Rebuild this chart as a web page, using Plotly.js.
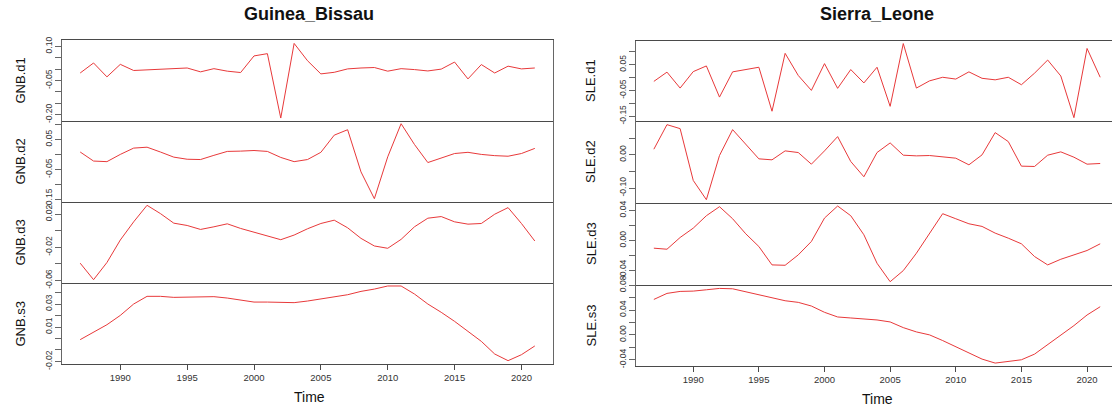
<!DOCTYPE html>
<html>
<head>
<meta charset="utf-8">
<script src="https://cdn.plot.ly/plotly-3.0.1.min.js"></script>
<style>
  html, body { margin: 0; padding: 0; background: #fff; }
  #chart { width: 1112px; height: 408px; }
</style>
</head>
<body>
<div id="chart"></div>
<script>
// ---------------- data ----------------
const years = [1987,1988,1989,1990,1991,1992,1993,1994,1995,1996,1997,1998,1999,2000,2001,2002,2003,2004,2005,2006,2007,2008,2009,2010,2011,2012,2013,2014,2015,2016,2017,2018,2019,2020,2021];

const gnbD1 = [-0.017,0.027,-0.034,0.021,-0.006,-0.003,0.002,0.002,0.005,-0.012,0.002,-0.009,-0.015,0.058,0.068,-0.215,0.113,0.037,-0.021,-0.014,0.001,0.005,0.007,-0.009,0.002,-0.002,-0.008,0.000,0.031,-0.043,0.020,-0.017,0.013,0.001,0.005];
const gnbD2 = [0.008,-0.022,-0.024,0.000,0.021,0.024,0.008,-0.009,-0.016,-0.017,-0.003,0.010,0.011,0.013,0.010,-0.010,-0.024,-0.017,0.007,0.064,0.082,-0.058,-0.147,-0.008,0.102,0.033,-0.027,-0.011,0.003,0.007,0.000,-0.004,-0.006,0.003,0.020];
const gnbD3 = [-0.0392,-0.0592,-0.0384,-0.0112,0.0108,0.0308,0.0208,0.0092,0.0064,0.0016,0.0048,0.0084,0.0028,-0.0016,-0.0064,-0.0108,-0.0052,0.0024,0.0088,0.0128,0.0036,-0.0092,-0.0184,-0.0212,-0.0104,0.0048,0.0152,0.0172,0.0108,0.0080,0.0088,0.0200,0.0280,0.0088,-0.0124];
const gnbS3 = [-0.0010,0.0057,0.0120,0.0201,0.0300,0.0367,0.0367,0.0358,0.0361,0.0361,0.0364,0.0352,0.0335,0.0317,0.0317,0.0317,0.0312,0.0326,0.0343,0.0358,0.0381,0.0410,0.0430,0.0457,0.0457,0.0387,0.0300,0.0228,0.0149,0.0062,-0.0025,-0.0135,-0.0193,-0.0141,-0.0065];

const sleD1 = [-0.015,0.021,-0.041,0.023,0.045,-0.076,0.022,0.032,0.040,-0.131,0.094,0.008,-0.050,0.054,-0.042,0.031,-0.021,0.040,-0.112,0.132,-0.041,-0.013,0.001,-0.006,0.022,-0.003,-0.009,0.001,-0.028,0.017,0.068,0.006,-0.156,0.113,0.001];
const sleD2 = [0.017,0.091,0.079,-0.077,-0.135,-0.002,0.076,0.032,-0.012,-0.015,0.012,0.007,-0.028,0.012,0.055,-0.020,-0.066,0.007,0.036,-0.001,-0.003,-0.002,-0.007,-0.010,-0.030,0.000,0.067,0.040,-0.034,-0.035,-0.001,0.009,-0.007,-0.028,-0.026];
const sleD3 = [-0.0102,-0.0116,0.0040,0.0164,0.0329,0.0449,0.0289,0.0089,-0.0080,-0.0324,-0.0329,-0.0191,-0.0013,0.0298,0.0458,0.0329,0.0076,-0.0302,-0.0547,-0.0400,-0.0169,0.0098,0.0356,0.0289,0.0222,0.0187,0.0098,0.0031,-0.0044,-0.0213,-0.0324,-0.0249,-0.0191,-0.0133,-0.0044];
const sleS3 = [0.0570,0.0667,0.0699,0.0704,0.0725,0.0747,0.0741,0.0693,0.0640,0.0587,0.0549,0.0523,0.0464,0.0363,0.0288,0.0272,0.0256,0.0240,0.0208,0.0117,0.0048,0.0000,-0.0091,-0.0192,-0.0293,-0.0389,-0.0453,-0.0432,-0.0400,-0.0309,-0.0160,-0.0011,0.0149,0.0320,0.0453];

const panelTitles = ["Guinea_Bissau", "Sierra_Leone"];
const seriesNames = ["GNB.d1","GNB.d2","GNB.d3","GNB.s3","SLE.d1","SLE.d2","SLE.d3","SLE.s3"];
const xTickVals = [1990,1995,2000,2005,2010,2015,2020];
const xTickText = ["1990","1995","2000","2005","2010","2015","2020"];
const xTitle = "Time";

// y tick values and their (partly skipped) labels
const yTickVals = [
  [0.10,0.05,0.00,-0.05,-0.10,-0.15,-0.20],
  [0.10,0.05,0.00,-0.05,-0.10,-0.15],
  [0.02,0.00,-0.02,-0.04,-0.06],
  [0.04,0.03,0.02,0.01,0.00,-0.01,-0.02],
  [0.10,0.05,0.00,-0.05,-0.10,-0.15],
  [0.05,0.00,-0.05,-0.10],
  [0.04,0.02,0.00,-0.02,-0.04],
  [0.08,0.06,0.04,0.02,0.00,-0.02,-0.04]
];
const yTickText = [
  ["0.10","","","-0.05","","","-0.20"],
  ["","0.05","","-0.05","","-0.15"],
  ["0.02","","-0.02","","-0.06"],
  ["","0.03","","0.01","","","-0.02"],
  ["","0.05","","-0.05","","-0.15"],
  ["","0.00","","-0.10"],
  ["0.04","","0.00","","-0.04"],
  ["0.08","","0.04","","0.00","","-0.04"]
];

const series = [gnbD1, gnbD2, gnbD3, gnbS3, sleD1, sleD2, sleD3, sleS3];

// ---------------- layout ----------------
const W = 1112, H = 408;
const FONT = "Liberation Sans, Arial, Helvetica, sans-serif";
const LINE = "#e8393a";
const AXC = "#4a4a4a";

// pixel geometry of the panel boxes (left, right stacks)
const leftX = [62, 553];
const rightX = [636, 1112];
const leftRows = [[40,121],[121,202],[202,283],[283,364]];
const rightRows = [[41,121],[121,203],[203,285],[285,366]];
const yRanges = [
  [-0.228, 0.128], [-0.158, 0.111], [-0.0632, 0.0348], [-0.0222, 0.0483],
  [-0.169, 0.142], [-0.145, 0.102], [-0.0591, 0.0498], [-0.0500, 0.0802]
];
const xRangeLeft = [1985.64, 2022.36];
const xRangeRight = [1985.64, 2021.90];

function vdom(r) { return [1 - r[1]/H, 1 - r[0]/H]; }
function hdom(r) { return [r[0]/W, Math.min(1, r[1]/W)]; }

const traces = [];
const layout = {
  width: W, height: H, autosize: false,
  margin: {l:0, r:0, t:0, b:0, pad:0},
  paper_bgcolor: "#ffffff", plot_bgcolor: "#ffffff",
  showlegend: false,
  font: {family: FONT, color: "#222"},
  annotations: []
};

for (let i = 0; i < 8; i++) {
  const n = i + 1;
  const isLeft = i < 4;
  const row = i % 4;
  const rows = isLeft ? leftRows : rightRows;
  const bottom = row === 3;
  traces.push({
    x: years, y: series[i], type: "scatter", mode: "lines",
    line: {color: LINE, width: 1},
    xaxis: "x" + n, yaxis: "y" + n, hoverinfo: "skip"
  });
  layout["xaxis" + n] = {
    domain: hdom(isLeft ? leftX : rightX),
    range: isLeft ? xRangeLeft : xRangeRight,
    anchor: "y" + n,
    showgrid: false, zeroline: false,
    // only the top row draws its top edge; every row draws its bottom edge once
    showline: true, mirror: row === 0 ? true : false, linecolor: AXC, linewidth: 1,
    ticks: bottom ? "outside" : "", ticklen: 5, tickcolor: AXC, tickwidth: 1,
    showticklabels: bottom,
    tickmode: "array", tickvals: xTickVals, ticktext: xTickText,
    tickfont: {family: FONT, size: 9.5, color: "#333"}
  };
  layout["yaxis" + n] = {
    domain: vdom(rows[row]),
    range: yRanges[i],
    anchor: "x" + n,
    showgrid: false, zeroline: false,
    showline: true, mirror: isLeft ? true : false, linecolor: "#666666", linewidth: 1,
    ticks: "outside", ticklen: 6, tickcolor: "#666666", tickwidth: 1,
    tickmode: "array", tickvals: yTickVals[i], ticktext: yTickText[i],
    tickangle: -90,
    tickfont: {family: FONT, size: 8.5, color: "#333"}
  };
  // y axis title
  const yc = (rows[row][0] + rows[row][1]) / 2;
  layout.annotations.push({
    text: seriesNames[i], xref: "paper", yref: "paper",
    x: (isLeft ? 20 : 591) / W, y: 1 - yc / H,
    xanchor: "center", yanchor: "middle", textangle: -90, showarrow: false,
    font: {family: FONT, size: 13, color: "#111"}
  });
}

// panel titles and x titles
[[309, 14, 397], [877, 14, 399]].forEach((p, k) => {
  layout.annotations.push({
    text: "<b>" + panelTitles[k] + "</b>", xref: "paper", yref: "paper",
    x: p[0] / W, y: 1 - p[1] / H, xanchor: "center", yanchor: "middle",
    showarrow: false, font: {family: FONT, size: 18, color: "#111"}
  });
  layout.annotations.push({
    text: xTitle, xref: "paper", yref: "paper",
    x: p[0] / W, y: 1 - p[2] / H, xanchor: "center", yanchor: "middle",
    showarrow: false, font: {family: FONT, size: 14, color: "#111"}
  });
});

Plotly.newPlot("chart", traces, layout, {displayModeBar: false, staticPlot: true});
</script>
</body>
</html>
